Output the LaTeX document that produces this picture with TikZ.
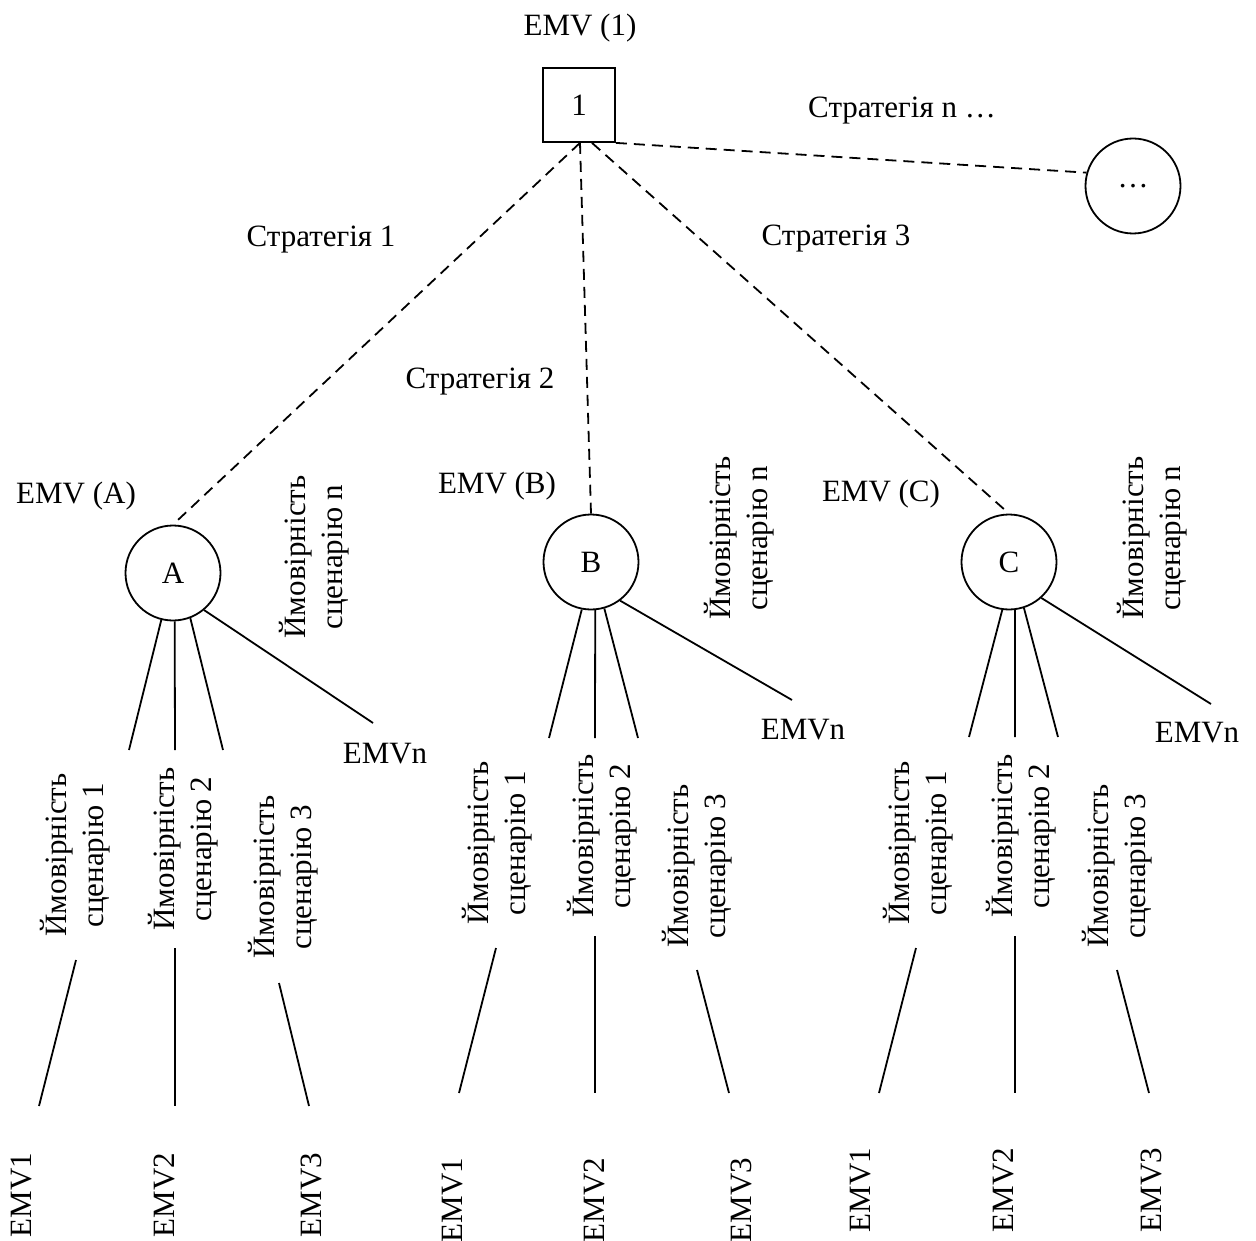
\documentclass[tikz,border=0pt]{standalone}
\usepackage{fontspec}
\setmainfont{Liberation Serif}
\begin{document}
\begin{tikzpicture}[x=1pt,y=-1pt,
  txt/.style={font=\fontsize{31}{37.5}\selectfont,inner sep=0pt,align=center},
  vlabel/.style={txt,rotate=90},
  decision/.style={draw,rectangle,line width=1.8pt,minimum width=72pt,minimum height=74pt,inner sep=0pt,font=\fontsize{31}{37.5}\selectfont},
  chance/.style={draw,circle,line width=1.8pt,minimum size=95pt,inner sep=0pt,font=\fontsize{31}{37.5}\selectfont},
  strat/.style={line width=1.8pt,dash pattern=on 11pt off 7pt},
  branch/.style={line width=1.8pt}]
\useasboundingbox (0,0) rectangle (1256,1241);

% decision node and strategy outcomes
\node[decision] (d1) at (579,105) {1};
\node[txt] (emv1) at (580,28) {EMV (1)};
\node[chance] (A) at (173,573) {A};
\node[chance] (B) at (591,562) {B};
\node[chance] (C) at (1009,562) {C};
\node[chance] (N) at (1133,186) {…};

\node[txt] (emvA) at (76,496) {EMV (A)};
\node[txt] (emvB) at (497,486) {EMV (B)};
\node[txt] (emvC) at (881,494) {EMV (C)};

\node[txt] (s1) at (321,240) {Стратегія 1};
\node[txt] (s2) at (480,382) {Стратегія 2};
\node[txt] (s3) at (836,239) {Стратегія 3};
\node[txt] (sn) at (902,111) {Стратегія n …};

% strategy branches
\draw[strat] ([xshift=1pt]d1.south) -- (A.north);
\draw[strat] ([xshift=1pt]d1.south) -- (B.north);
\draw[strat] ([xshift=13pt]d1.south) -- (C.north);
\draw[strat] (d1.south east) -- (N.164);

% scenario branch ends
\coordinate (a1) at (129,750); \coordinate (a2) at (175,750);
\coordinate (a3) at (223,750); \coordinate (an) at (373,723);
\coordinate (b1) at (549,738); \coordinate (b2) at (595,738);
\coordinate (b3) at (638,738); \coordinate (bn) at (792,700);
\coordinate (c1) at (969,737); \coordinate (c2) at (1015,737);
\coordinate (c3) at (1058,737); \coordinate (cn) at (1211,704);

\draw[branch] (A.256.5) -- (a1);
\draw[branch] (A.272) -- (a2);
\draw[branch] (A.291) -- (a3);
\draw[branch] (A.310) -- (an);
\draw[branch] (B.259) -- (b1);
\draw[branch] (B.275) -- (b2);
\draw[branch] (B.286) -- (b3);
\draw[branch] (B.307) -- (bn);
\draw[branch] (C.262) -- (c1);
\draw[branch] (C.277) -- (c2);
\draw[branch] (C.288) -- (c3);
\draw[branch] (C.312.5) -- (cn);

% probability labels
\node[vlabel] (pAn) at (314,557) {Ймовірність\\сценарію n};
\node[vlabel] (pBn) at (739,538) {Ймовірність\\сценарію n};
\node[vlabel] (pCn) at (1152,538) {Ймовірність\\сценарію n};
\node[txt] (emvAn) at (385,754) {EMVn};
\node[txt] (emvBn) at (803,730) {EMVn};
\node[txt] (emvCn) at (1197,733) {EMVn};

\node[vlabel] (pA1) at (75,855) {Ймовірність\\сценарію 1};
\node[vlabel] (pA2) at (183,849) {Ймовірність\\сценарію 2};
\node[vlabel] (pA3) at (283,877) {Ймовірність\\сценарію 3};
\node[vlabel] (pB1) at (497,843) {Ймовірність\\сценарію 1};
\node[vlabel] (pB2) at (602,836) {Ймовірність\\сценарію 2};
\node[vlabel] (pB3) at (697,866) {Ймовірність\\сценарію 3};
\node[vlabel] (pC1) at (918,843) {Ймовірність\\сценарію 1};
\node[vlabel] (pC2) at (1021,836) {Ймовірність\\сценарію 2};
\node[vlabel] (pC3) at (1117,866) {Ймовірність\\сценарію 3};

% outcome values
\node[vlabel] (eA1) at (22,1195) {EMV1};
\node[vlabel] (eA2) at (164,1195) {EMV2};
\node[vlabel] (eA3) at (311,1195) {EMV3};
\node[vlabel] (eB1) at (452,1200) {EMV1};
\node[vlabel] (eB2) at (594,1200) {EMV2};
\node[vlabel] (eB3) at (741,1200) {EMV3};
\node[vlabel] (eC1) at (860,1190) {EMV1};
\node[vlabel] (eC2) at (1003,1190) {EMV2};
\node[vlabel] (eC3) at (1151,1190) {EMV3};

% lower branch segments
\coordinate (ua1) at (76,960);   \coordinate (la1) at (39,1106);
\coordinate (ua2) at (175,948);  \coordinate (la2) at (175,1106);
\coordinate (ua3) at (279,983);  \coordinate (la3) at (309,1106);
\coordinate (ub1) at (496,948);  \coordinate (lb1) at (459,1093);
\coordinate (ub2) at (595,936);  \coordinate (lb2) at (595,1093);
\coordinate (ub3) at (697,970);  \coordinate (lb3) at (729,1093);
\coordinate (uc1) at (916,948);  \coordinate (lc1) at (879,1093);
\coordinate (uc2) at (1015,936); \coordinate (lc2) at (1015,1093);
\coordinate (uc3) at (1117,970); \coordinate (lc3) at (1149,1093);
\foreach \p in {a1,a2,a3,b1,b2,b3,c1,c2,c3}
  \draw[branch] (u\p) -- (l\p);
\end{tikzpicture}
\end{document}
